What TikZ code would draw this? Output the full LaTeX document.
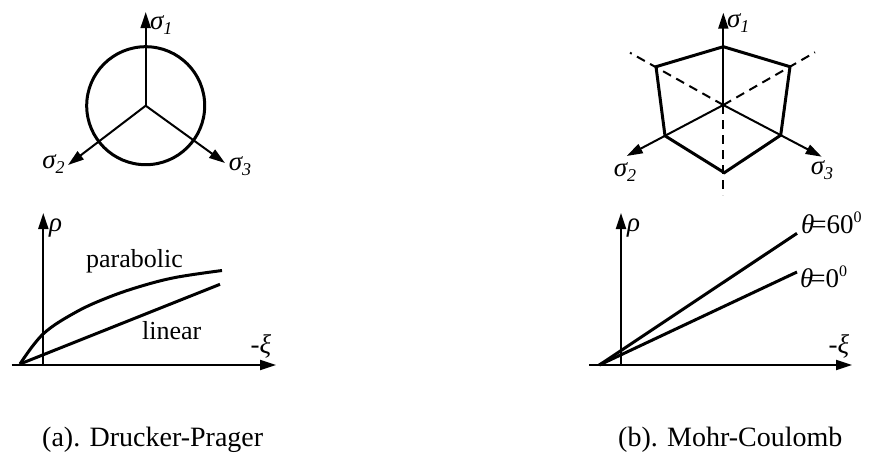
\documentclass[tikz,border=0pt]{standalone}
\usepackage{fontspec}
\setmainfont{Liberation Serif}
\usetikzlibrary{arrows.meta}
\newcommand\mysig[1]{\textit{σ}\kern-1pt\raisebox{-0.35ex}{\fontsize{18}{18}\selectfont\itshape #1}}
\newcommand\mysup[1]{\raisebox{0.85ex}{\fontsize{16}{16}\selectfont #1}}
\begin{document}
\begin{tikzpicture}[x=1pt,y=-1pt,
  axis/.style={line width=2pt,-{Triangle[length=16pt,width=10pt]}},
  bold/.style={line width=3pt},
  dash2/.style={line width=2pt,dash pattern=on 9pt off 6pt},
  lbl/.style={inner sep=0pt,font=\fontsize{27}{30}\selectfont},
  captext/.style={inner sep=0pt,anchor=base west,font=\fontsize{28}{32}\selectfont},
]
\useasboundingbox (0,0) rectangle (869,459);
% ---------- (a) top: circle ----------
\coordinate (c1) at (145.7,105.7);
\coordinate (a1) at (145.7,12);
\coordinate (a2) at (68,165);
\coordinate (a3) at (225,163);
\draw[bold] (c1) circle (59);
\draw[axis] (c1) -- (a1);
\draw[axis] (c1) -- (a2);
\draw[axis] (c1) -- (a3);
\node[lbl,anchor=west] (s1a) at (150,25) {\mysig{1}};
\node[lbl] (s2a) at (53.5,164) {\mysig{2}};
\node[lbl] (s3a) at (240,166) {\mysig{3}};
% ---------- (b) top: hexagon ----------
\coordinate (c2) at (723.3,105);
\coordinate (b1) at (723.3,12.7);
\coordinate (b2) at (626.7,156);
\coordinate (b3) at (821.7,156.7);
\coordinate (d1) at (630,52.7);
\coordinate (d2) at (815,52.3);
\coordinate (d3) at (723.3,195);
\draw[dash2] (c2) -- (d1);
\draw[dash2] (c2) -- (d2);
\draw[dash2] (c2) -- (d3);
\coordinate (h1) at (723.3,46.7);
\coordinate (h2) at (790,66.7);
\coordinate (h3) at (780.7,135.2);
\coordinate (h4) at (724.3,172.7);
\coordinate (h5) at (665,135.8);
\coordinate (h6) at (656,66.7);
\draw[bold,line join=miter] (h1) -- (h2) -- (h3) -- (h4) -- (h5) -- (h6) -- cycle;
\draw[axis] (c2) -- (b1);
\draw[axis] (c2) -- (b2);
\draw[axis] (c2) -- (b3);
\node[lbl,anchor=west] (s1b) at (727,23) {\mysig{1}};
\node[lbl] (s2b) at (625,172) {\mysig{2}};
\node[lbl] (s3b) at (822,170) {\mysig{3}};
% ---------- (a) bottom ----------
\coordinate (ox1) at (11.7,365);
\coordinate (tx1) at (276,365);
\coordinate (oy1) at (43.3,365);
\coordinate (ty1) at (43.3,213);
\draw[axis] (ox1) -- (tx1);
\draw[axis] (oy1) -- (ty1);
\coordinate (o1) at (20,364);
\coordinate (le1) at (220,284.3);
\draw[bold] (o1) -- (le1);
\draw[bold] plot[smooth,tension=0.6] coordinates {(20,364) (43.3,333.8) (76.7,311.7) (110,296.7) (143.3,285.5) (176.7,277.2) (222,270.5)};
\node[lbl,anchor=west] (rho1) at (49,228) {\textit{ρ}};
\node[lbl] (xi1) at (261,346.7) {-\textit{ξ}};
\node[lbl,font=\fontsize{26}{30}\selectfont] (par) at (134.5,261) {parabolic};
\node[lbl,font=\fontsize{26}{30}\selectfont] (lin) at (171.7,331) {linear};
% ---------- (b) bottom ----------
\coordinate (ox2) at (589.3,365);
\coordinate (tx2) at (852,365);
\coordinate (oy2) at (621,365);
\coordinate (ty2) at (621,213);
\draw[axis] (ox2) -- (tx2);
\draw[axis] (oy2) -- (ty2);
\coordinate (o2) at (599.3,365);
\coordinate (e60) at (797,233.3);
\coordinate (e0) at (797,272);
\draw[bold] (o2) -- (e60);
\draw[bold] (o2) -- (e0);
\node[lbl,anchor=west] (rho2) at (627,228) {\textit{ρ}};
\node[lbl] (xi2) at (839,346) {-\textit{ξ}};
\node[lbl,anchor=west] (t60) at (801,223) {\textit{θ}\kern-3pt=60\mysup{0}};
\node[lbl,anchor=west] (t0) at (800,277) {\textit{θ}\kern-3pt=0\mysup{0}};
% ---------- captions ----------
\node[captext] (capa) at (42,446) {(a). Drucker-Prager};
\node[captext] (capb) at (618,446) {(b). Mohr-Coulomb};
\end{tikzpicture}
\end{document}
